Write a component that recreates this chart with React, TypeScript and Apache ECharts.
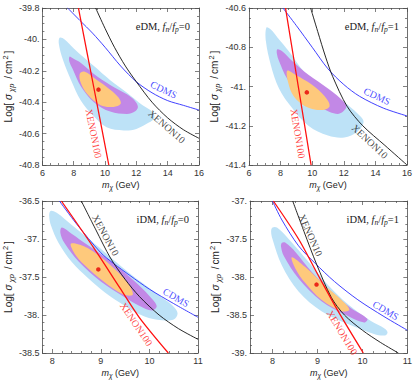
import React, { useEffect, useRef } from 'react';
import * as echarts from 'echarts';

type Pt = [number, number];

// ---------------- Panel 1 : eDM, fn/fp = 0 ----------------
const p1Sigma3: Pt[] = [[7.10,-39.99],[7.42,-40.0],[7.83,-40.04],[8.46,-40.10],[9.29,-40.17],[10.33,-40.26],[11.4,-40.34],[12.4,-40.42],[13.0,-40.46],[13.15,-40.50],[12.8,-40.53],[12.0,-40.57],[11.2,-40.58],[10.1,-40.56],[9.29,-40.49],[8.46,-40.39],[7.83,-40.26],[7.31,-40.13],[7.05,-40.03]];
const p1Sigma2: Pt[] = [[7.73,-40.11],[7.94,-40.12],[8.46,-40.15],[9.29,-40.22],[10.33,-40.29],[11.4,-40.35],[11.9,-40.39],[12.1,-40.43],[11.9,-40.46],[11.4,-40.475],[10.33,-40.46],[9.29,-40.40],[8.46,-40.30],[7.94,-40.19],[7.72,-40.14]];
const p1Sigma1: Pt[] = [[8.38,-40.22],[8.67,-40.205],[9.5,-40.26],[10.33,-40.32],[10.86,-40.37],[11.0,-40.41],[10.54,-40.43],[9.71,-40.42],[8.875,-40.35],[8.46,-40.28]];
const p1Best: Pt[] = [[9.58,-40.32]];
const p1Cdms: Pt[] = [[7.61,-39.8],[8.4,-39.88],[9.2,-39.96],[10.0,-40.05],[11.0,-40.17],[12.0,-40.27],[13.0,-40.34],[14.0,-40.39],[15.0,-40.42],[16.0,-40.45]];
const p1Xe10: Pt[] = [[9.4,-39.8],[10.0,-39.93],[10.6,-40.05],[11.3,-40.17],[12.0,-40.27],[13.0,-40.40],[14.0,-40.50],[15.0,-40.575],[16.0,-40.63]];
const p1Xe100: Pt[] = [[8.3,-39.8],[9.27,-40.3],[10.24,-40.8]];

// ---------------- Panel 2 : eDM, fn/fp = 1 ----------------
const p2Sigma3: Pt[] = [[7.1,-40.70],[7.38,-40.71],[7.8,-40.75],[8.52,-40.82],[9.55,-40.93],[10.79,-41.01],[12.03,-41.08],[12.9,-41.14],[13.25,-41.18],[12.86,-41.23],[12.03,-41.26],[11.0,-41.25],[9.76,-41.2],[8.73,-41.11],[7.9,-41.01],[7.38,-40.89],[7.07,-40.77]];
const p2Sigma2: Pt[] = [[7.8,-40.81],[8.1,-40.82],[8.73,-40.87],[9.76,-40.94],[11.0,-41.01],[12.03,-41.08],[12.14,-41.11],[11.62,-41.14],[10.59,-41.11],[9.35,-41.05],[8.42,-40.96],[7.9,-40.87],[7.76,-40.83]];
const p2Sigma1: Pt[] = [[8.42,-40.92],[8.93,-40.94],[9.97,-40.99],[10.79,-41.05],[11.1,-41.10],[10.59,-41.12],[9.55,-41.10],[8.83,-41.05],[8.48,-40.98]];
const p2Best: Pt[] = [[9.66,-41.03]];
const p2Cdms: Pt[] = [[8.15,-40.6],[9.0,-40.69],[10.0,-40.8],[11.0,-40.91],[12.0,-40.99],[13.0,-41.05],[14.5,-41.11],[16.0,-41.15]];
const p2Xe10: Pt[] = [[9.9,-40.6],[10.35,-40.72],[10.85,-40.85],[11.3,-40.95],[12.2,-41.10],[13.2,-41.20],[14.6,-41.30],[16.0,-41.40]];
const p2Xe100: Pt[] = [[8.31,-40.6],[9.12,-41.0],[9.93,-41.4]];

// ---------------- Panel 3 : iDM, fn/fp = 0 ----------------
const p3Sigma3: Pt[] = [[7.97,-36.63],[8.13,-36.67],[8.3,-36.76],[8.66,-36.95],[9.06,-37.16],[9.46,-37.38],[9.86,-37.58],[10.26,-37.77],[10.5,-37.89],[10.58,-37.98],[10.5,-38.06],[10.26,-38.07],[9.9,-38.02],[9.5,-37.88],[9.1,-37.71],[8.73,-37.51],[8.4,-37.30],[8.13,-37.05],[7.98,-36.83],[7.94,-36.70]];
const p3Sigma2: Pt[] = [[8.2,-36.85],[8.4,-36.93],[8.73,-37.08],[9.26,-37.32],[9.7,-37.56],[10.0,-37.75],[10.15,-37.88],[10.05,-37.94],[9.8,-37.88],[9.5,-37.77],[9.0,-37.56],[8.55,-37.30],[8.25,-37.05],[8.17,-36.92]];
const p3Sigma1: Pt[] = [[8.39,-37.06],[8.73,-37.12],[9.19,-37.34],[9.53,-37.56],[9.66,-37.73],[9.46,-37.73],[9.06,-37.56],[8.66,-37.34],[8.46,-37.19]];
const p3Best: Pt[] = [[8.95,-37.40]];
const p3Cdms: Pt[] = [[8.15,-36.5],[8.5,-36.8],[9.0,-37.18],[9.26,-37.32],[9.6,-37.48],[10.0,-37.66],[10.5,-37.85],[11.0,-38.03]];
const p3Xe10: Pt[] = [[8.6,-36.5],[8.9,-36.88],[9.2,-37.25],[9.5,-37.53],[9.8,-37.76],[10.2,-38.0],[10.6,-38.18],[11.0,-38.32]];
const p3Xe100: Pt[] = [[8.19,-36.5],[8.86,-37.12],[9.39,-37.64],[9.79,-38.03],[10.39,-38.5]];

// ---------------- Panel 4 : iDM, fn/fp = 1 ----------------
const p4Sigma3: Pt[] = [[8.0,-37.35],[8.1,-37.35],[8.36,-37.5],[8.8,-37.8],[9.24,-38.11],[9.68,-38.36],[10.19,-38.58],[10.5,-38.68],[10.56,-38.73],[10.5,-38.77],[10.26,-38.75],[9.68,-38.62],[9.09,-38.45],[8.58,-38.19],[8.21,-37.85],[8.0,-37.5],[7.97,-37.4]];
const p4Sigma2: Pt[] = [[8.21,-37.55],[8.29,-37.55],[8.51,-37.67],[8.87,-37.93],[9.31,-38.19],[9.75,-38.41],[10.11,-38.55],[10.04,-38.6],[9.6,-38.49],[9.09,-38.32],[8.58,-38.02],[8.25,-37.72],[8.19,-37.6]];
const p4Sigma1: Pt[] = [[8.43,-37.74],[8.73,-37.87],[9.16,-38.11],[9.53,-38.30],[9.71,-38.43],[9.53,-38.45],[9.09,-38.30],[8.73,-38.08],[8.51,-37.89]];
const p4Best: Pt[] = [[8.98,-38.10]];
const p4Cdms: Pt[] = [[8.0,-37.0],[8.21,-37.25],[8.58,-37.59],[8.95,-37.82],[9.38,-38.06],[9.9,-38.30],[10.48,-38.52],[11.0,-38.70]];
const p4Xe10: Pt[] = [[8.45,-37.0],[8.7,-37.4],[8.98,-37.83],[9.31,-38.27],[9.6,-38.5],[10.0,-38.7],[10.4,-38.86],[10.8,-39.0]];
const p4Xe100: Pt[] = [[8.02,-37.0],[8.58,-37.5],[9.02,-37.98],[9.46,-38.45],[10.02,-39.0]];

// ---------------- Curve label anchors [text, x, y, rotation deg] ----------------
const p1Labels: [string, number, number, number][] = [['CDMS',13.75,-40.32,-25],['XENON10',13.95,-40.555,-41],['XENON100',9.28,-40.6,-78.6]];
const p2Labels: [string, number, number, number][] = [['CDMS',14.1,-41.05,-25],['XENON10',13.65,-41.28,-43],['XENON100',9.1,-41.24,-80.5]];
const p3Labels: [string, number, number, number][] = [['XENON10',9.1,-36.95,-61.5],['CDMS',10.55,-37.77,-30],['XENON100',9.73,-38.12,-56]];
const p4Labels: [string, number, number, number][] = [['XENON10',8.85,-37.45,-66],['CDMS',10.52,-38.44,-31],['XENON100',9.55,-38.73,-59]];

const panelKinds = ['eDM', 'eDM', 'iDM', 'iDM'];
const panelRatios = ['0', '1', '0', '1'];

const FRAME = '#4a4a4a';
const SANS = 'Liberation Sans, Arial, sans-serif';
const SERIF = 'Liberation Serif, Times New Roman, serif';
const C_LIGHT = '#bde2f7';
const C_PURPLE = '#c288e6';
const C_ORANGE = '#fec97c';

interface PanelSpec {
  grid: { left: number; top: number; width: number; height: number };
  x: [number, number]; xInterval?: number; xMinor: number;
  y: [number, number]; yInterval: number; yMinor: number;
  s3: Pt[]; s2: Pt[]; s1: Pt[]; best: Pt[]; cdms: Pt[]; xe10: Pt[]; xe100: Pt[];
  labels: [string, number, number, number][];
  yGap: number;
}

const panels: PanelSpec[] = [
  { grid: { left: 39, top: 8, width: 160, height: 157 }, x: [6, 16], xInterval: 2, xMinor: 4, y: [-40.8, -39.8], yInterval: 0.2, yMinor: 4,
    s3: p1Sigma3, s2: p1Sigma2, s1: p1Sigma1, best: p1Best, cdms: p1Cdms, xe10: p1Xe10, xe100: p1Xe100, labels: p1Labels, yGap: 26 },
  { grid: { left: 249, top: 8, width: 159, height: 157 }, x: [6, 16], xInterval: 2, xMinor: 4, y: [-41.4, -40.6], yInterval: 0.2, yMinor: 4,
    s3: p2Sigma3, s2: p2Sigma2, s1: p2Sigma1, best: p2Best, cdms: p2Cdms, xe10: p2Xe10, xe100: p2Xe100, labels: p2Labels, yGap: 27 },
  { grid: { left: 38, top: 201, width: 160, height: 155 }, x: [7.8, 11], xMinor: 5, y: [-38.5, -36.5], yInterval: 0.5, yMinor: 5,
    s3: p3Sigma3, s2: p3Sigma2, s1: p3Sigma1, best: p3Best, cdms: p3Cdms, xe10: p3Xe10, xe100: p3Xe100, labels: p3Labels, yGap: 26 },
  { grid: { left: 250, top: 201, width: 158, height: 155 }, x: [7.5, 11], xMinor: 4, y: [-39, -37], yInterval: 0.5, yMinor: 5,
    s3: p4Sigma3, s2: p4Sigma2, s1: p4Sigma1, best: p4Best, cdms: p4Cdms, xe10: p4Xe10, xe100: p4Xe100, labels: p4Labels, yGap: 27 },
];

const xFmt = (v: number) => (Math.abs(v - Math.round(v)) < 1e-6 ? String(Math.round(v)) : '');
const yFmt = (v: number) => v.toFixed(1).replace(/\.0$/, '.');

const xNameRich = {
  n: { fontFamily: SANS, fontSize: 9, color: '#222', lineHeight: 13, verticalAlign: 'middle' },
  i: { fontFamily: SANS, fontSize: 9, color: '#222', fontStyle: 'italic', lineHeight: 13, verticalAlign: 'middle' },
  sb: { fontFamily: SANS, fontSize: 6.5, color: '#222', fontStyle: 'italic', lineHeight: 7, verticalAlign: 'bottom' },
};
const yNameRich = {
  n: { fontFamily: SANS, fontSize: 10, color: '#222', lineHeight: 14, verticalAlign: 'middle' },
  p: { fontFamily: SANS, fontSize: 10, color: '#222', lineHeight: 14, verticalAlign: 'middle', padding: [0, 2, 0, 2] },
  i: { fontFamily: SANS, fontSize: 10, color: '#222', fontStyle: 'italic', lineHeight: 14, verticalAlign: 'middle', padding: [0, 1, 0, 3] },
  sb: { fontFamily: SANS, fontSize: 7.5, color: '#222', fontStyle: 'italic', lineHeight: 8, verticalAlign: 'bottom', padding: [0, 3, 0, 1] },
  sp: { fontFamily: SANS, fontSize: 7.5, color: '#222', lineHeight: 8, verticalAlign: 'top', padding: [0, 2, 0, 1] },
};
const panelRich = {
  n: { fontFamily: SERIF, fontSize: 10.5, fontWeight: 'normal', color: '#222', lineHeight: 14, verticalAlign: 'middle' },
  i: { fontFamily: SERIF, fontSize: 10.5, fontWeight: 'normal', color: '#222', fontStyle: 'italic', lineHeight: 14, verticalAlign: 'middle' },
  sb: { fontFamily: SERIF, fontSize: 7.5, fontWeight: 'normal', color: '#222', fontStyle: 'italic', lineHeight: 8, verticalAlign: 'bottom' },
};

function buildOption() {
  const grids: any[] = [];
  const xAxes: any[] = [];
  const yAxes: any[] = [];
  const series: any[] = [];
  const titles: any[] = [];

  panels.forEach((p, i) => {
    grids.push({ ...p.grid, containLabel: false });
    const line = { show: true, onZero: false, lineStyle: { color: FRAME, width: 0.8 } };
    const tick = { show: true, inside: true, length: 4, lineStyle: { color: FRAME, width: 0.7 } };
    const xCommon: any = {
      type: 'value', gridIndex: i, min: p.x[0], max: p.x[1],
      ...(p.xInterval ? { interval: p.xInterval } : { splitNumber: 3 }),
      splitLine: { show: false }, axisLine: line, axisTick: tick,
      minorTick: { show: true, splitNumber: p.xMinor, length: 2, lineStyle: { color: FRAME, width: 0.7 } },
    };
    xAxes.push({
      ...xCommon, position: 'bottom',
      axisLabel: { show: true, margin: 3, fontFamily: SANS, fontSize: 9, color: '#333', formatter: xFmt },
      name: '{i|m}{sb|χ}{n| (GeV)}', nameLocation: 'middle', nameGap: 13,
      nameTextStyle: { fontFamily: SANS, fontSize: 9, color: '#222', lineHeight: 13, rich: xNameRich },
    });
    xAxes.push({ ...xCommon, position: 'top', axisLabel: { show: false } });
    const yCommon: any = {
      type: 'value', gridIndex: i, min: p.y[0], max: p.y[1], interval: p.yInterval,
      splitLine: { show: false }, axisLine: line, axisTick: tick,
      minorTick: { show: true, splitNumber: p.yMinor, length: 2, lineStyle: { color: FRAME, width: 0.7 } },
    };
    yAxes.push({
      ...yCommon, position: 'left',
      axisLabel: { show: true, margin: 3, fontFamily: SANS, fontSize: 9, color: '#333', formatter: yFmt },
      name: '{n|Log[}{i|σ}{sb|χp}{p|/}{n|cm}{sp|2}{n|]}', nameLocation: 'middle', nameRotate: 90, nameGap: p.yGap,
      nameTextStyle: { fontFamily: SANS, fontSize: 10, color: '#222', lineHeight: 14, rich: yNameRich },
    });
    yAxes.push({ ...yCommon, position: 'right', axisLabel: { show: false } });

    const xi = 2 * i;
    const region = (pts: Pt[], color: string, z: number) => ({
      type: 'custom', xAxisIndex: xi, yAxisIndex: xi, data: pts, z, silent: true, clip: true,
      renderItem: (params: any, api: any) => {
        if (params.dataIndex !== 0) return null;
        const points = pts.map((pt) => api.coord(pt));
        return { type: 'polygon', shape: { points, smooth: 0.35 }, style: { fill: color, stroke: null } };
      },
    });
    series.push(region(p.s3, C_LIGHT, 1));
    series.push(region(p.s2, C_PURPLE, 2));
    series.push(region(p.s1, C_ORANGE, 3));

    const curve = (pts: Pt[], color: string, width: number) => ({
      type: 'line', xAxisIndex: xi, yAxisIndex: xi, data: pts, smooth: 0.3, symbol: 'none', showSymbol: false,
      silent: true, clip: true, z: 5, lineStyle: { color, width },
    });
    series.push(curve(p.cdms, '#2b2bff', 0.9));
    series.push(curve(p.xe10, '#111111', 0.9));
    series.push(curve(p.xe100, '#ff1010', 1.3));

    series.push({
      type: 'scatter', xAxisIndex: xi, yAxisIndex: xi, data: p.best, symbolSize: 4.5, z: 7, silent: true,
      itemStyle: { color: '#e60000' },
    });

    const colors: Record<string, string> = { CDMS: '#2222ff', XENON10: '#111111', XENON100: '#ff1010' };
    p.labels.forEach(([txt, lx, ly, rot]) => {
      series.push({
        type: 'scatter', xAxisIndex: xi, yAxisIndex: xi, data: [[lx, ly]], symbolSize: 1, z: 8, silent: true,
        itemStyle: { color: 'rgba(0,0,0,0)' },
        label: { show: true, position: 'inside', formatter: txt, rotate: rot, color: colors[txt], fontFamily: SERIF, fontSize: 10, fontWeight: 'normal' },
      });
    });

    titles.push({
      text: `{n|${panelKinds[i]}, }{i|f}{sb|n}{n|/}{i|f}{sb|p}{n|=${panelRatios[i]}}`,
      right: 415 - (p.grid.left + p.grid.width - 9),
      top: p.grid.top + 11,
      padding: 0,
      textStyle: { fontFamily: SERIF, fontSize: 10.5, fontWeight: 'normal', color: '#222', rich: panelRich },
    });
  });

  return {
    animation: false,
    backgroundColor: '#ffffff',
    title: titles,
    grid: grids,
    xAxis: xAxes,
    yAxis: yAxes,
    series,
  };
}

export default function App() {
  const ref = useRef<HTMLDivElement>(null);
  useEffect(() => {
    document.body.style.margin = '0';
    if (!ref.current) return;
    const chart = echarts.init(ref.current, null, { renderer: 'svg' });
    chart.setOption(buildOption() as any);
    return () => chart.dispose();
  }, []);
  return <div ref={ref} style={{ width: 415, height: 380 }} />;
}
